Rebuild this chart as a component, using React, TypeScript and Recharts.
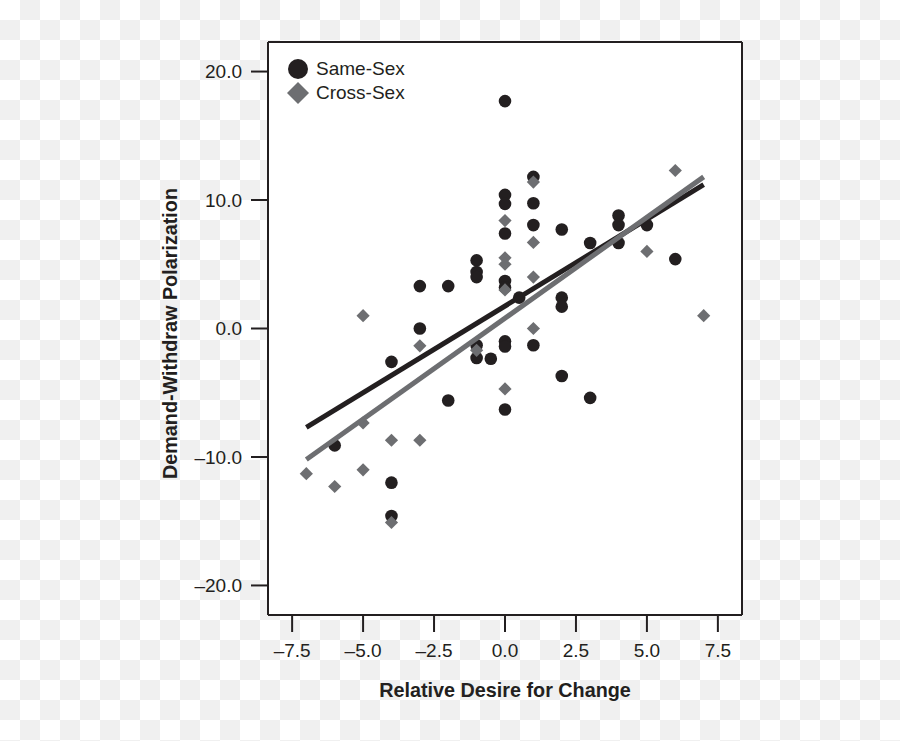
import {
    ScatterChart,
    Scatter,
    XAxis,
    YAxis,
    CartesianGrid,
    Legend,
    Label,
} from 'recharts';

// ---------------------------------------------------------------------------
//  Data
// ---------------------------------------------------------------------------

const sameSexX = [
    0, 0, 0, 0, 0, 0, 0, 0, 0,
    0.5,
    1, 1, 1, 1,
    2, 2, 2, 2,
    3, 3,
    4, 4, 4,
    5, 6,
    -0.5,
    -1, -1, -1, -1, -1,
    -2, -2,
    -3, -3,
    -4, -4, -4,
    -6,
];
const sameSexY = [
    17.7, 10.4, 9.7, 7.4, 3.7, 3.2, -1.0, -1.4, -6.3,
    2.4,
    11.8, 9.75, 8.05, -1.3,
    7.7, 2.4, 1.7, -3.7,
    6.65, -5.4,
    8.8, 8.05, 6.65,
    8.05, 5.4,
    -2.35,
    5.3, 4.4, 4.0, -1.3, -2.3,
    3.3, -5.6,
    3.3, 0.0,
    -2.6, -12.0, -14.6,
    -9.1,
];

const crossSexX = [
    0, 0, 0, 0, 0,
    1, 1, 1, 1,
    5, 6, 7,
    -1,
    -3, -3,
    -4, -4,
    -5, -5, -5,
    -6, -7,
];
const crossSexY = [
    8.4, 5.5, 5.0, 3.0, -4.7,
    11.4, 6.7, 4.0, 0.0,
    6.0, 12.3, 1.0,
    -1.7,
    -1.35, -8.7,
    -8.7, -15.1,
    1.0, -7.35, -11.0,
    -12.3, -11.3,
];

// fitted lines (end points)
const sameSexFitX = [-7, 7];
const sameSexFitY = [-7.7, 11.2];
const crossSexFitX = [-7, 7];
const crossSexFitY = [-10.2, 11.8];

const xTicks = [-7.5, -5, -2.5, 0, 2.5, 5, 7.5];
const xTickLabels = ['\u20137.5', '\u20135.0', '\u20132.5', '0.0', '2.5', '5.0', '7.5'];
const yTicks = [20, 10, 0, -10, -20];
const yTickLabels = ['20.0', '10.0', '0.0', '\u201310.0', '\u201320.0'];

const seriesNames = ['Same-Sex', 'Cross-Sex'];

// ---------------------------------------------------------------------------

const INK = '#231f20';
const GREY = '#6d6e71';
const FONT = '"Liberation Sans", Arial, Helvetica, sans-serif';
const X_DOMAIN: [number, number] = [-8.35, 8.35];
const Y_DOMAIN: [number, number] = [-22.3, 22.3];

const zip = (xs: number[], ys: number[]) => xs.map((x, i) => ({ x, y: ys[i] }));

const sameSexData = zip(sameSexX, sameSexY);
const crossSexData = zip(crossSexX, crossSexY);
const sameSexFit = zip(sameSexFitX, sameSexFitY);
const crossSexFit = zip(crossSexFitX, crossSexFitY);

const Dot = (p: any) => <circle cx={p.cx} cy={p.cy} r={6.3} fill={INK} />;

const Diamond = (p: any) => {
    const s = 6.6;
    return (
        <polygon
            points={`${p.cx},${p.cy - s} ${p.cx + s},${p.cy} ${p.cx},${p.cy + s} ${p.cx - s},${p.cy}`}
            fill={GREY}
        />
    );
};

const NoShape = () => <g />;

function LegendBox() {
    const row = { display: 'flex', alignItems: 'center', height: 24 };
    const text = { marginLeft: 8, fontSize: 19, color: INK, lineHeight: '24px' };
    return (
        <div style={{ fontFamily: FONT }}>
            <div style={row}>
                <svg width={20} height={20}>
                    <circle cx={10} cy={10} r={10} fill={INK} />
                </svg>
                <span style={text}>{seriesNames[0]}</span>
            </div>
            <div style={row}>
                <svg width={22} height={22} style={{ marginLeft: -1, marginRight: -1 }}>
                    <polygon points="11,0 22,11 11,22 0,11" fill={GREY} />
                </svg>
                <span style={text}>{seriesNames[1]}</span>
            </div>
        </div>
    );
}

const tickStyle = { fill: INK, fontSize: 19, fontFamily: FONT };
const lineStyle = { stroke: INK, strokeWidth: 2 };
const titleStyle = { fill: INK, fontSize: 19.8, fontWeight: 700, fontFamily: FONT };

export default function App() {
    return (
        <div
            style={{
                position: 'absolute',
                top: 0,
                left: 0,
                width: 900,
                height: 741,
                fontFamily: FONT,
                background: 'repeating-conic-gradient(#f0f0f0 0 25%, #ffffff 0 50%) 0 0 / 40px 40px',
            }}
        >
            <ScatterChart width={900} height={741} margin={{ top: 42, right: 158, bottom: 36, left: 168 }}>
                {/* white plot panel + box frame on the plot edges */}
                <CartesianGrid
                    fill="#ffffff"
                    horizontalPoints={[42, 615]}
                    verticalPoints={[268, 742]}
                    stroke={INK}
                    strokeWidth={2}
                />
                <XAxis
                    type="number"
                    dataKey="x"
                    domain={X_DOMAIN}
                    ticks={xTicks}
                    allowDataOverflow
                    height={90}
                    tickSize={17}
                    tickMargin={12}
                    tick={tickStyle}
                    axisLine={lineStyle}
                    tickLine={lineStyle}
                    tickFormatter={(v: number) => xTickLabels[xTicks.indexOf(v)] ?? String(v)}
                >
                    <Label value="Relative Desire for Change" position="insideBottom" offset={8} style={titleStyle} />
                </XAxis>
                <YAxis
                    type="number"
                    dataKey="y"
                    domain={Y_DOMAIN}
                    ticks={yTicks}
                    allowDataOverflow
                    width={100}
                    tickSize={17}
                    tickMargin={9}
                    tick={tickStyle}
                    axisLine={lineStyle}
                    tickLine={lineStyle}
                    tickFormatter={(v: number) => yTickLabels[yTicks.indexOf(v)] ?? String(v)}
                >
                    <Label
                        value="Demand-Withdraw Polarization"
                        angle={-90}
                        position="insideLeft"
                        offset={2}
                        dy={5}
                        style={{ ...titleStyle, textAnchor: 'middle' }}
                    />
                </YAxis>
                <Legend
                    content={<LegendBox />}
                    layout="horizontal"
                    verticalAlign="middle"
                    align="center"
                    wrapperStyle={{ top: 57, left: 288, width: 'auto' }}
                />
                <Scatter name={seriesNames[0]} data={sameSexData} shape={Dot} isAnimationActive={false} />
                <Scatter name={seriesNames[1]} data={crossSexData} shape={Diamond} isAnimationActive={false} />
                <Scatter
                    data={sameSexFit}
                    line={{ stroke: INK, strokeWidth: 5 }}
                    shape={NoShape}
                    legendType="none"
                    isAnimationActive={false}
                />
                <Scatter
                    data={crossSexFit}
                    line={{ stroke: GREY, strokeWidth: 5 }}
                    shape={NoShape}
                    legendType="none"
                    isAnimationActive={false}
                />
            </ScatterChart>
        </div>
    );
}
